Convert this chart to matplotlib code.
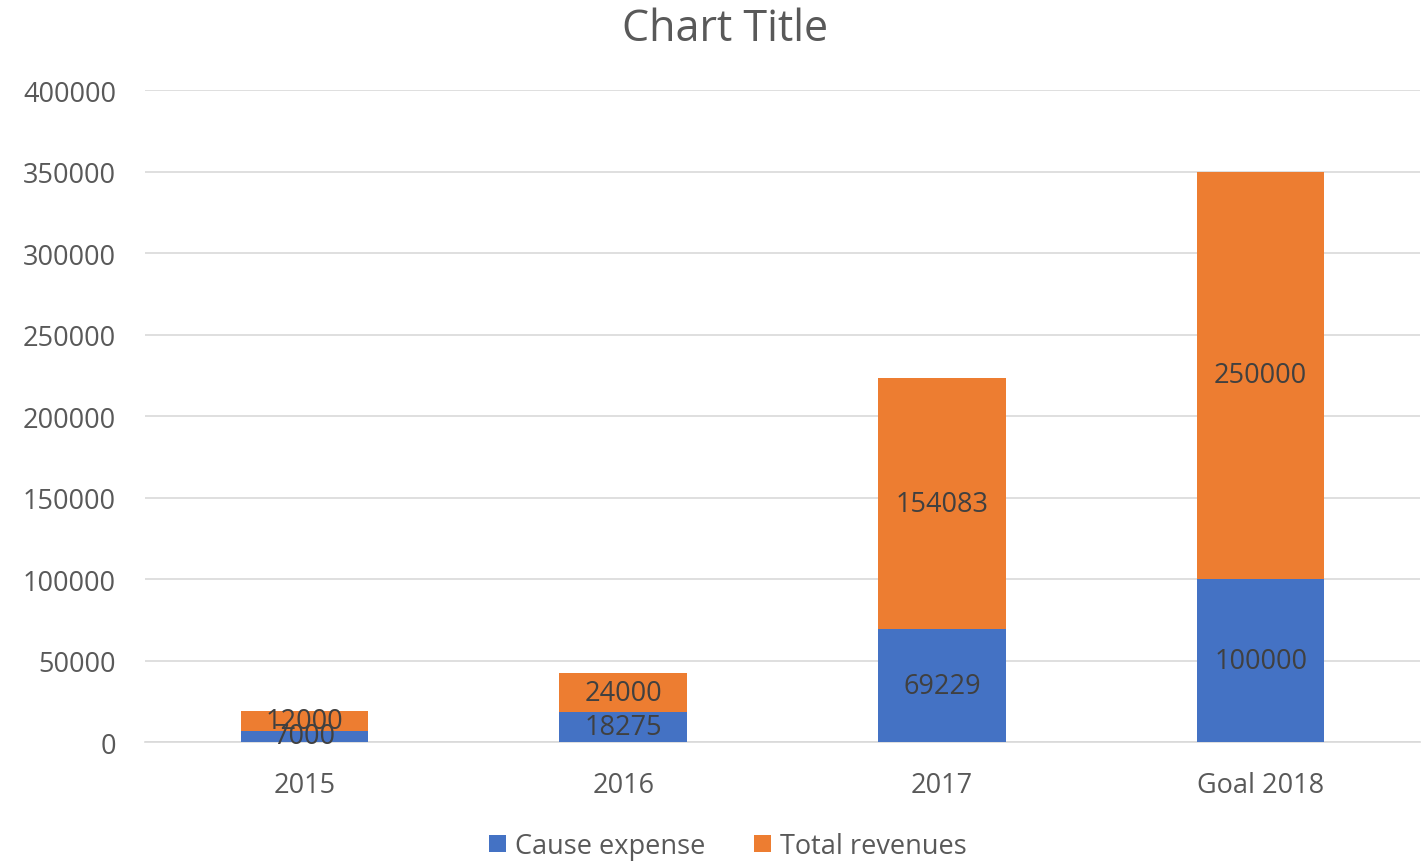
import matplotlib
matplotlib.use("Agg")
import matplotlib.pyplot as plt
import numpy as np

categories = ["2015", "2016", "2017", "Goal 2018"]
cause_expense = [7000, 18275, 69229, 100000]
total_revenues = [12000, 24000, 154083, 250000]
yticks = [0, 50000, 100000, 150000, 200000, 250000, 300000, 350000, 400000]

plt.rcParams['font.family'] = ['Open Sans', 'DejaVu Sans']

fig = plt.figure(figsize=(14.22, 8.62), dpi=100)
ax = fig.add_axes([0.102, 0.138, 0.8966, 0.7564])

x = np.arange(len(categories))
blue = "#4472C4"
orange = "#ED7D31"
b1 = ax.bar(x, cause_expense, width=0.4, color=blue, label="Cause expense", zorder=3)
b2 = ax.bar(x, total_revenues, width=0.4, bottom=cause_expense, color=orange,
            label="Total revenues", zorder=3)

for i in range(len(categories)):
    ax.text(x[i], cause_expense[i] / 2, str(cause_expense[i]), ha="center", va="center",
            fontsize=19.5, color="#404040", zorder=4)
    ax.text(x[i], cause_expense[i] + total_revenues[i] / 2, str(total_revenues[i]),
            ha="center", va="center", fontsize=19.5, color="#404040", zorder=4)

ax.set_xlim(-0.5, len(categories) - 0.5)
ax.set_ylim(0, 400000)
ax.set_yticks(yticks)
ax.set_yticklabels([str(v) for v in yticks])
ax.set_xticks(x)
ax.set_xticklabels(categories)
ax.tick_params(axis="both", length=0, labelsize=19.5, labelcolor="#595959")
ax.tick_params(axis="y", pad=21)
ax.tick_params(axis="x", pad=21)
ax.grid(axis="y", color="#D9D9D9", linewidth=1.2, zorder=0)
for s in ["top", "right", "left"]:
    ax.spines[s].set_visible(False)
ax.spines["bottom"].set_color("#D9D9D9")
ax.spines["bottom"].set_linewidth(1.2)

fig.text(0.51, 0.965, "Chart Title", ha="center", va="center", fontsize=31, color="#595959")

leg = fig.legend(handles=[b1, b2], loc="center", bbox_to_anchor=(0.512, 0.017), ncol=2,
                 frameon=False, fontsize=19.5, handlelength=0.6, handleheight=0.6,
                 handletextpad=0.35, columnspacing=1.8)
for t in leg.get_texts():
    t.set_color("#595959")

fig.savefig("out.png", dpi=100)
